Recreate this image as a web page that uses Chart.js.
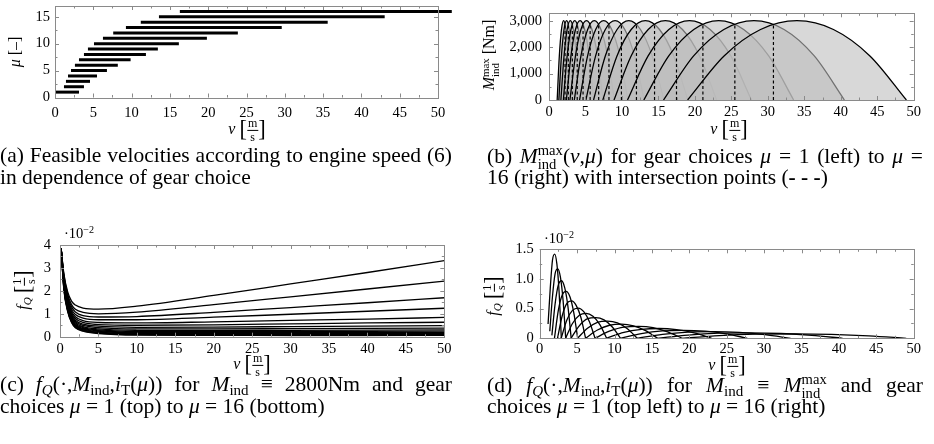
<!DOCTYPE html>
<html>
<head>
<meta charset="utf-8">
<script src="https://cdn.jsdelivr.net/npm/chart.js@4.4.1/dist/chart.umd.min.js"></script>
<style>
  html,body{margin:0;padding:0;background:#fff;}
  body{width:934px;height:444px;overflow:hidden;position:relative;font-family:"Liberation Serif","Times New Roman",serif;color:#000;}
  canvas{position:absolute;}
  .cap{position:absolute;font-size:21.5px;line-height:22px;height:22px;white-space:nowrap;}
  .just{text-align:justify;text-align-last:justify;}
  .cap sub{font-size:0.7em;vertical-align:-0.25em;line-height:0;}
  .ss{display:inline-block;vertical-align:-0.42em;font-size:0.68em;line-height:0.95em;text-align:left;}
  .ss span{display:block;}
  .ttl{position:absolute;font-size:16px;white-space:nowrap;transform:translate(-50%,-50%);line-height:1;}
  .rot{transform:translate(-50%,-50%) rotate(-90deg);}
  .frac{display:inline-block;vertical-align:middle;text-align:center;font-size:0.75em;line-height:1.05;}
  .frac span{display:block;padding:0 1px;}
  .frac span:first-child{border-bottom:0.9px solid #000;}
  .br{font-size:1.4em;vertical-align:-0.12em;line-height:0;}
  .ttl sub{font-size:0.7em;vertical-align:-0.3em;line-height:0;}
  .exp{position:absolute;font-size:14.5px;white-space:nowrap;line-height:1;}
  .exp sup{font-size:0.7em;vertical-align:0.45em;line-height:0;}
</style>
</head>
<body>
<canvas id="ca" width="467" height="140" style="left:0;top:0"></canvas>
<canvas id="cb" width="467" height="140" style="left:467px;top:0"></canvas>
<canvas id="cc" width="467" height="150" style="left:0;top:220px"></canvas>
<canvas id="cd" width="467" height="150" style="left:467px;top:220px"></canvas>

<!-- axis titles -->
<div class="ttl rot" style="left:15px;top:52px"><i>μ</i> [–]</div>
<div class="ttl" style="left:247px;top:130px"><i>v</i> <span class="br">[</span><span class="frac"><span>m</span><span>s</span></span><span class="br">]</span></div>

<div class="ttl rot" style="left:490px;top:55px"><i>M</i><span class="ss"><span>max</span><span>ind</span></span> [Nm]</div>
<div class="ttl" style="left:729px;top:130px"><i>v</i> <span class="br">[</span><span class="frac"><span>m</span><span>s</span></span><span class="br">]</span></div>

<div class="ttl rot" style="left:24px;top:290px"><i>f</i><sub><i>Q</i></sub> <span class="br">[</span><span class="frac"><span>1</span><span>s</span></span><span class="br">]</span></div>
<div class="ttl" style="left:252px;top:365px"><i>v</i> <span class="br">[</span><span class="frac"><span>m</span><span>s</span></span><span class="br">]</span></div>
<div class="exp" style="left:64px;top:226px">·10<sup>−2</sup></div>

<div class="ttl rot" style="left:494px;top:296px"><i>f</i><sub><i>Q</i></sub> <span class="br">[</span><span class="frac"><span>1</span><span>s</span></span><span class="br">]</span></div>
<div class="ttl" style="left:727px;top:366px"><i>v</i> <span class="br">[</span><span class="frac"><span>m</span><span>s</span></span><span class="br">]</span></div>
<div class="exp" style="left:544px;top:231px">·10<sup>−2</sup></div>

<!-- captions -->
<div class="cap just" style="left:0;top:144px;width:452px;white-space:normal">(a) Feasible velocities according to engine speed (6)</div>
<div class="cap" style="left:0;top:166px">in dependence of gear choice</div>
<div class="cap just" style="left:487px;top:144px;width:436px;white-space:normal">(b) <i>M</i><span class="ss"><span>max</span><span>ind</span></span>(<i>v</i>,<i>μ</i>) for gear choices <i>μ</i> = 1 (left) to <i>μ</i> =</div>
<div class="cap" style="left:487px;top:166px">16 (right) with intersection points (<b>- - -</b>)</div>
<div class="cap just" style="left:0;top:373px;width:452px;white-space:normal">(c) <i>f<sub>Q</sub></i>(·,<i>M</i><sub>ind</sub>,<i>i</i><sub>T</sub>(<i>μ</i>)) for <i>M</i><sub>ind</sub> ≡ 2800Nm and gear</div>
<div class="cap" style="left:0;top:395px">choices <i>μ</i> = 1 (top) to <i>μ</i> = 16 (bottom)</div>
<div class="cap just" style="left:487px;top:373px;width:436px;white-space:normal">(d) <i>f<sub>Q</sub></i>(·,<i>M</i><sub>ind</sub>,<i>i</i><sub>T</sub>(<i>μ</i>)) for <i>M</i><sub>ind</sub> ≡ <i>M</i><span class="ss"><span>max</span><span>ind</span></span> and gear</div>
<div class="cap" style="left:487px;top:395px">choices <i>μ</i> = 1 (top left) to <i>μ</i> = 16 (right)</div>

<script>
// ---------------- DATA ----------------
// tick labels
const ticksV = [0, 5, 10, 15, 20, 25, 30, 35, 40, 45, 50];
const ticksMuA = [0, 5, 10, 15];
const ticksTorqueB = [0, 1000, 2000, 3000];
const ticksFqC = [0, 1, 2, 3, 4];
const ticksFqD = [0, 0.5, 1, 1.5];

// (a) feasible velocity range per gear
const gearsA = [1,2,3,4,5,6,7,8,9,10,11,12,13,14,15,16];
const vMinA = [0, 1.17, 1.43, 1.70, 2.09, 2.60, 3.13, 3.78, 4.30, 5.09, 6.26, 7.60, 9.26, 11.2, 13.57, 16.3];
const vMaxA = [3.13, 3.78, 4.57, 5.48, 6.78, 8.20, 9.87, 11.87, 13.43, 16.17, 19.83, 23.87, 29.6, 35.6, 43.04, 51.8];

// (b) and (d): velocity samples of each gear's arc (v in m/s)
const gearV = [
  [1.12, 1.415, 1.71, 2.005, 2.30, 2.595, 2.89],
  [1.35, 1.705, 2.06, 2.415, 2.77, 3.125, 3.48],
  [1.63, 2.06, 2.49, 2.92, 3.35, 3.78, 4.21],
  [1.97, 2.49, 3.01, 3.53, 4.04, 4.56, 5.08],
  [2.38, 3.01, 3.63, 4.26, 4.89, 5.51, 6.14],
  [2.87, 3.63, 4.38, 5.14, 5.89, 6.65, 7.40],
  [3.47, 4.38, 5.30, 6.21, 7.12, 8.04, 8.95],
  [4.19, 5.29, 6.40, 7.50, 8.60, 9.71, 10.81],
  [5.06, 6.39, 7.72, 9.06, 10.39, 11.72, 13.05],
  [6.11, 7.72, 9.33, 10.94, 12.54, 14.15, 15.76],
  [7.38, 9.32, 11.27, 13.21, 15.15, 17.10, 19.04],
  [8.91, 11.26, 13.60, 15.95, 18.30, 20.64, 22.99],
  [10.76, 13.59, 16.43, 19.26, 22.09, 24.93, 27.76],
  [13.0, 16.42, 19.85, 23.27, 26.69, 30.12, 33.54],
  [15.7, 19.83, 23.97, 28.1, 32.23, 36.37, 40.5],
  [19.0, 24.0, 29.0, 34.0, 39.0, 44.0, 49.0]
];
// (b) max torque at those samples (Nm), same arc height for every gear
const mMaxGear = [0, 1667, 2667, 3000, 2667, 1667, 0];
// (b) intersection points of neighbouring gears
const intersectV = [2.20, 2.65, 3.20, 3.87, 4.67, 5.64, 6.81, 8.22, 9.93, 11.99, 14.47, 17.48, 21.10, 25.48, 30.77];
const intersectM = [2860, 2860, 2860, 2860, 2860, 2860, 2860, 2860, 2860, 2860, 2860, 2860, 2860, 2860, 2860];

// (c) f_Q at M_ind = 2800 Nm, values in 1e-2 1/s
const vC = [0.15, 0.5, 1, 1.5, 2, 3, 5, 10, 20, 30, 40, 50];
const fqConst = [
  [3.85, 2.75, 1.95, 1.55, 1.38, 1.25, 1.20, 1.33, 1.80, 2.30, 2.80, 3.32],
  [3.85, 2.70, 1.85, 1.40, 1.20, 1.06, 1.00, 1.07, 1.40, 1.74, 2.08, 2.42],
  [3.85, 2.65, 1.76, 1.30, 1.08, 0.92, 0.86, 0.88, 1.06, 1.27, 1.48, 1.70],
  [3.85, 2.60, 1.68, 1.20, 0.97, 0.81, 0.74, 0.74, 0.85, 0.98, 1.11, 1.24],
  [3.85, 2.55, 1.60, 1.11, 0.87, 0.70, 0.62, 0.60, 0.65, 0.71, 0.77, 0.84],
  [3.85, 2.50, 1.53, 1.03, 0.79, 0.62, 0.53, 0.50, 0.52, 0.56, 0.60, 0.63],
  [3.85, 2.45, 1.47, 0.97, 0.72, 0.55, 0.46, 0.41, 0.42, 0.44, 0.46, 0.48],
  [3.85, 2.40, 1.41, 0.91, 0.66, 0.49, 0.40, 0.34, 0.34, 0.35, 0.36, 0.37],
  [3.85, 2.35, 1.36, 0.86, 0.61, 0.44, 0.34, 0.28, 0.27, 0.28, 0.29, 0.30],
  [3.85, 2.30, 1.31, 0.81, 0.56, 0.40, 0.30, 0.23, 0.22, 0.22, 0.23, 0.24],
  [3.85, 2.26, 1.27, 0.77, 0.52, 0.36, 0.26, 0.19, 0.18, 0.18, 0.18, 0.19],
  [3.85, 2.22, 1.23, 0.73, 0.49, 0.33, 0.23, 0.16, 0.14, 0.14, 0.15, 0.15],
  [3.85, 2.18, 1.19, 0.70, 0.46, 0.30, 0.20, 0.13, 0.12, 0.11, 0.12, 0.12],
  [3.85, 2.14, 1.16, 0.67, 0.43, 0.28, 0.18, 0.11, 0.09, 0.09, 0.09, 0.10],
  [3.85, 2.10, 1.13, 0.64, 0.41, 0.26, 0.16, 0.09, 0.07, 0.07, 0.07, 0.08],
  [3.85, 2.06, 1.10, 0.62, 0.39, 0.24, 0.14, 0.07, 0.06, 0.05, 0.05, 0.06]
];

// (d) f_Q at M_ind = M_ind^max, at the gearV samples, values in 1e-2 1/s
const fqMax = [
  [0.24, 0.85, 1.32, 1.42, 1.25, 0.78, 0],
  [0.12, 0.70, 1.09, 1.17, 1.03, 0.64, 0],
  [0.05, 0.58, 0.90, 0.97, 0.85, 0.53, 0],
  [0, 0.47, 0.73, 0.79, 0.70, 0.43, 0],
  [0, 0.38, 0.59, 0.63, 0.55, 0.35, 0],
  [0, 0.31, 0.47, 0.51, 0.45, 0.28, 0],
  [0, 0.25, 0.39, 0.42, 0.37, 0.23, 0],
  [0, 0.21, 0.33, 0.35, 0.31, 0.19, 0],
  [0, 0.17, 0.27, 0.29, 0.26, 0.16, 0],
  [0, 0.14, 0.22, 0.24, 0.21, 0.13, 0],
  [0, 0.12, 0.19, 0.20, 0.18, 0.11, 0],
  [0, 0.10, 0.15, 0.165, 0.145, 0.09, 0],
  [0, 0.08, 0.125, 0.135, 0.12, 0.075, 0],
  [0, 0.067, 0.104, 0.112, 0.099, 0.062, 0],
  [0, 0.055, 0.086, 0.092, 0.081, 0.051, 0],
  [0, 0.046, 0.071, 0.076, 0.067, 0.042, 0]
];

// ---------------- CAPTION FIT ----------------
document.querySelectorAll('.just').forEach(el => {
  let fs = 21.5;
  while (el.scrollHeight > 30 && fs > 15) { fs -= 0.25; el.style.fontSize = fs + 'px'; }
});

// ---------------- CHARTS ----------------
Chart.defaults.font.family = '"Liberation Serif", "Times New Roman", serif';
Chart.defaults.font.size = 14.5;
Chart.defaults.color = '#000';

const pgfFrame = {
  id: 'pgfFrame',
  afterDraw(chart) {
    const {ctx, chartArea: a} = chart;
    const x = chart.scales.x, y = chart.scales.y;
    ctx.save();
    ctx.strokeStyle = '#8a8a8a';
    ctx.lineWidth = 1;
    const seg = (x1, y1, x2, y2) => { ctx.beginPath(); ctx.moveTo(x1, y1); ctx.lineTo(x2, y2); ctx.stroke(); };
    const marks = (scale) => {
      const vals = scale.ticks.map(t => t.value);
      const step = vals.length > 1 ? vals[1] - vals[0] : 1;
      const out = [];
      vals.forEach(v => {
        out.push([v, 4]);
        if (v + step / 2 <= scale.max + 1e-9) out.push([v + step / 2, 2.5]);
      });
      return out;
    };
    marks(x).forEach(([v, L]) => {
      const p = Math.round(x.getPixelForValue(v)) + 0.5;
      seg(p, a.bottom, p, a.bottom - L);
      seg(p, a.top, p, a.top + L);
    });
    marks(y).forEach(([v, L]) => {
      const p = Math.round(y.getPixelForValue(v)) + 0.5;
      seg(a.left, p, a.left + L, p);
      seg(a.right, p, a.right - L, p);
    });
    ctx.strokeRect(Math.round(a.left) + 0.5, Math.round(a.top) + 0.5, Math.round(a.right - a.left), Math.round(a.bottom - a.top));
    ctx.restore();
  }
};

function xScale(h, pad) {
  return {
    type: 'linear', min: 0, max: 50,
    ticks: { padding: pad, maxRotation: 0, autoSkip: false },
    grid: { display: false, drawTicks: false }, border: { display: false },
    afterBuildTicks: s => { s.ticks = ticksV.map(v => ({ value: v })); },
    afterFit: s => { s.height = h; s.paddingLeft = 0; s.paddingRight = 0; }
  };
}
function yScale(min, max, tickVals, w, pad) {
  return {
    type: 'linear', min: min, max: max,
    ticks: { padding: pad, autoSkip: false },
    grid: { display: false, drawTicks: false }, border: { display: false },
    afterBuildTicks: s => { s.ticks = tickVals.map(v => ({ value: v })); },
    afterFit: s => { s.width = w; s.paddingTop = 0; s.paddingBottom = 0; }
  };
}
function baseOptions(pad, xs, ys) {
  return {
    responsive: false, animation: false, devicePixelRatio: 1,
    layout: { padding: pad },
    plugins: { legend: { display: false }, tooltip: { enabled: false }, filler: { drawTime: 'beforeDatasetDraw' } },
    elements: { point: { radius: 0 } },
    scales: { x: xs, y: ys }
  };
}

// (a)
new Chart(document.getElementById('ca'), {
  type: 'line',
  data: {
    datasets: gearsA.map((mu, i) => ({
      data: [{ x: vMinA[i], y: mu }, { x: vMaxA[i], y: mu }],
      borderColor: '#000', borderWidth: 3, pointRadius: 0, clip: false, fill: false
    }))
  },
  options: baseOptions({ top: 6, right: 29, left: 0, bottom: 0 }, xScale(42.5, 7), yScale(0, 17, ticksMuA, 55, 5)),
  plugins: [pgfFrame]
});

// (b)
const dsB = gearV.map((vs, i) => ({
  data: vs.map((v, k) => ({ x: v, y: mMaxGear[k] })),
  borderColor: '#000', borderWidth: 1.3, backgroundColor: 'rgba(190,190,190,0.6)',
  fill: 'origin', pointRadius: 0, cubicInterpolationMode: 'monotone', order: 16 - i
}));
intersectV.forEach((v, i) => dsB.push({
  data: [{ x: v, y: 0 }, { x: v, y: intersectM[i] }],
  borderColor: '#000', borderWidth: 1.2, borderDash: [3, 2.5], pointRadius: 0, fill: false, order: -1
}));
new Chart(document.getElementById('cb'), {
  type: 'line',
  data: { datasets: dsB },
  options: baseOptions({ top: 13.3, right: 20.3, left: 0, bottom: 0 }, xScale(40, 3.5), yScale(0, 3280, ticksTorqueB, 82, 7)),
  plugins: [pgfFrame]
});

// (c)
new Chart(document.getElementById('cc'), {
  type: 'line',
  data: {
    datasets: fqConst.map(vals => ({
      data: vC.map((v, k) => ({ x: v, y: vals[k] })),
      borderColor: '#000', borderWidth: 1.3, pointRadius: 0, fill: false, cubicInterpolationMode: 'monotone'
    }))
  },
  options: baseOptions({ top: 25, right: 22.7, left: 0, bottom: 0 }, xScale(33.3, 3.5), yScale(0, 4, ticksFqC, 60, 9)),
  plugins: [pgfFrame]
});

// (d)
new Chart(document.getElementById('cd'), {
  type: 'line',
  data: {
    datasets: fqMax.map((vals, i) => ({
      data: gearV[i].map((v, k) => ({ x: v, y: vals[k] })),
      borderColor: '#000', borderWidth: 1.3, pointRadius: 0, fill: false, cubicInterpolationMode: 'monotone'
    }))
  },
  options: baseOptions({ top: 29.3, right: 20.3, left: 0, bottom: 0 }, xScale(31.7, 2.5), yScale(0, 1.5, ticksFqD, 72.7, 6)),
  plugins: [pgfFrame]
});
</script>
</body>
</html>
